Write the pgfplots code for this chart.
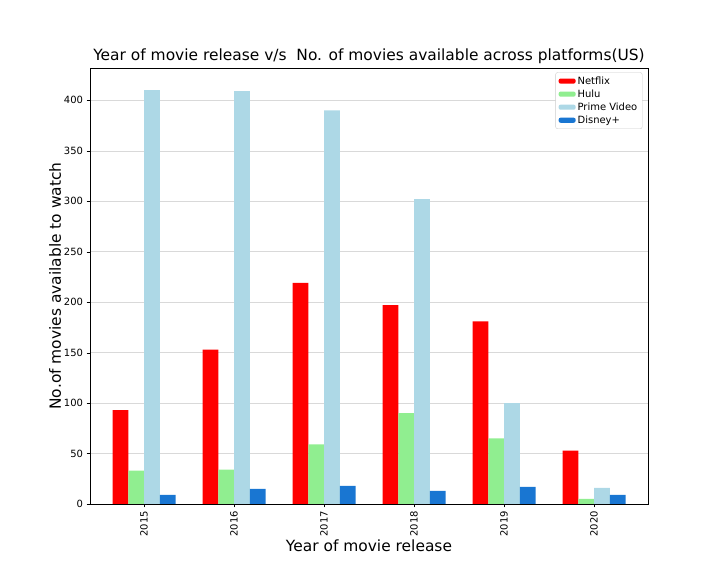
\documentclass[border=0pt]{standalone}
\usepackage{pgfplots}
\pgfplotsset{compat=1.18}
\usepackage{fontspec}
\setmainfont{DejaVu Sans}
\definecolor{lgreen}{RGB}{144,238,144}
\definecolor{lblue}{RGB}{173,216,230}
\definecolor{dblue}{RGB}{25,118,210}
\begin{document}
\begin{tikzpicture}
\useasboundingbox (0,0) rectangle (720bp,576bp);
\begin{axis}[at={(90bp,72bp)}, anchor=south west,
  scale only axis, width=558bp, height=436bp,
  xmin=-0.6, xmax=5.6, ymin=0, ymax=432,
  xtick={0,1,2,3,4,5}, xticklabels={2015,2016,2017,2018,2019,2020},
  xtick pos=bottom, ytick pos=left,
  x tick label style={rotate=90, anchor=east, font=\fontsize{10}{12}\selectfont},
  y tick label style={font=\fontsize{10}{12}\selectfont},
  /pgf/number format/assume math mode=true,
  ytick={0,50,...,400},
  ymajorgrids, grid style={gray!30},
  tick align=outside, major tick length=3.5bp, tick style={black},
  title={Year of movie release v/s\ \ No. of movies available across platforms(US)},
  title style={font=\fontsize{15.5}{18}\selectfont, yshift=-5bp},
  xlabel={Year of movie release}, ylabel={No.of movies available to watch},
  label style={font=\fontsize{15.5}{18}\selectfont},
  xlabel style={yshift=3bp}, ylabel style={yshift=-4bp},
  ybar=0pt, bar width=0.175,
  legend style={at={(0.99,0.99)}, anchor=north east, font=\fontsize{10}{12}\selectfont, draw=gray!40, rounded corners=2pt},
  legend cell align=left,
  legend image code/.code={\draw[#1, draw=none] (0cm,-0.09cm) rectangle (0.6cm,0.09cm);},
]
\addplot[fill=red, draw=none] coordinates {(0,93) (1,153) (2,219) (3,197) (4,181) (5,53)};
\addplot[fill=lgreen, draw=none] coordinates {(0,33) (1,34) (2,59) (3,90) (4,65) (5,5)};
\addplot[fill=lblue, draw=none] coordinates {(0,410) (1,409) (2,390) (3,302) (4,100) (5,16)};
\addplot[fill=dblue, draw=none] coordinates {(0,9) (1,15) (2,18) (3,13) (4,17) (5,9)};
\legend{Netflix,Hulu,Prime Video,Disney+}
\end{axis}
\end{tikzpicture}
\end{document}
